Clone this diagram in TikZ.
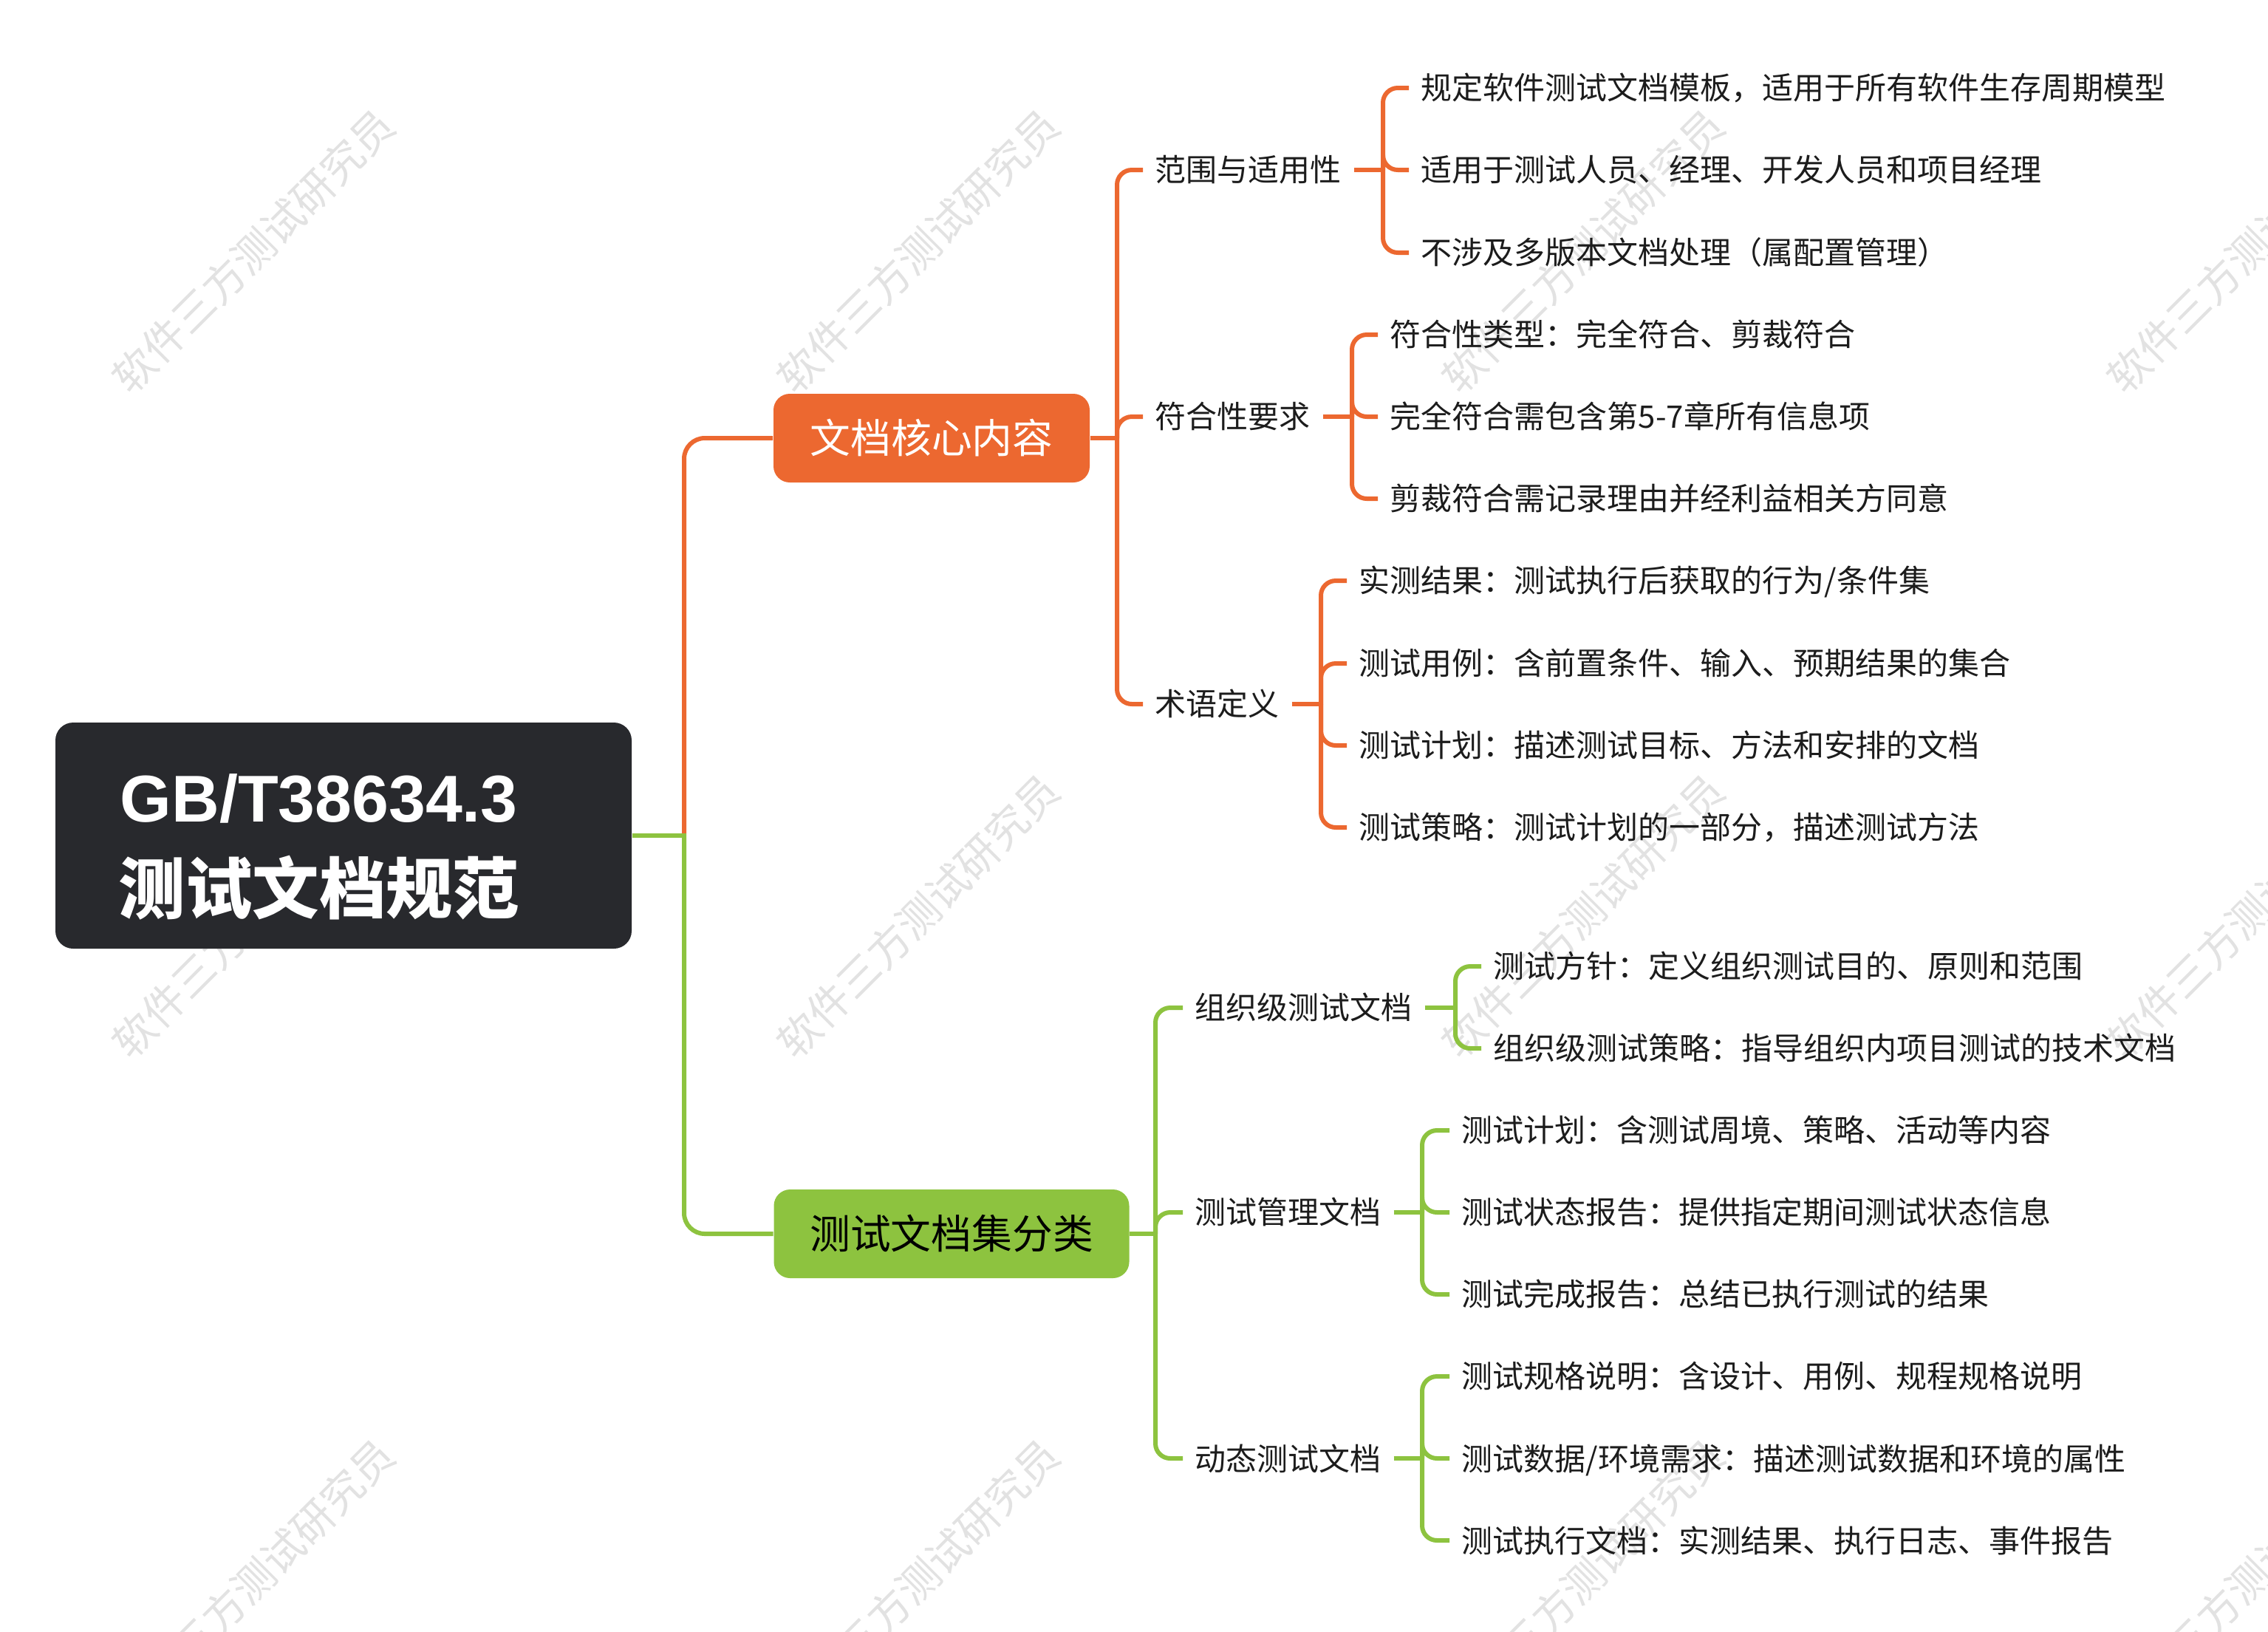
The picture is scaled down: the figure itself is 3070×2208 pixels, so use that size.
\documentclass[tikz,border=0pt]{standalone}
\usepackage{fontspec}
\setmainfont{Noto Sans CJK SC}
\newfontfamily\latinbold{Liberation Sans}
\usetikzlibrary{calc}
\definecolor{corange}{HTML}{EC6830}
\definecolor{cgreen}{HTML}{8DC33F}
\definecolor{croot}{HTML}{28292D}
\definecolor{ctext}{HTML}{1C1C1C}
\definecolor{cwm}{HTML}{E2E2E2}
\begin{document}
\begin{tikzpicture}[x=0.25pt,y=-0.25pt,
  wm/.style={text=cwm, font=\fontsize{14.2}{14.2}\selectfont, rotate=45, inner sep=0pt},
  rootbox/.style={fill=croot, rounded corners=6pt, minimum width=195pt, minimum height=76.5pt, inner sep=0pt},
  roottext/.style={text=white, inner sep=0pt, anchor=base west},
  lonebox/.style={rounded corners=5.5pt, minimum height=30pt, inner sep=0pt, font=\fontsize{13.7}{16}\selectfont},
  item/.style={anchor=west, inner xsep=4pt, inner ysep=1pt, text=ctext, text height=9.24pt, text depth=1.26pt, font=\fontsize{10.5}{12.6}\selectfont},
  ol/.style={draw=corange, line width=1.5pt, rounded corners=5pt},
  gl/.style={draw=cgreen, line width=1.5pt, rounded corners=5pt}
]
\useasboundingbox (0,0) rectangle (3070,2208);
\fill[white] (0,0) rectangle (3070,2208);

% watermarks
\foreach \i in {0,...,3} {
  \foreach \j in {0,1,2} {
    \node[wm] (wm\i\j) at ({343+900*\i},{340+900*\j}) {软件三方测试研究员};
  }
}

% root
\node[rootbox] (root) at (465,1131) {};
\node[roottext, font=\latinbold\bfseries\fontsize{22.4}{28}\selectfont] (rt1) at (162,1112) {GB/T38634.3};
\node[roottext, font=\bfseries\fontsize{22.6}{28}\selectfont] (rt2) at (160,1236) {测试文档规范};

% level 1
\node[lonebox, fill=corange, text=white, minimum width=107pt] (core) at (1261,593) {文档核心内容};
\node[lonebox, fill=cgreen, text=black, minimum width=120.25pt] (cls) at (1288,1670) {测试文档集分类};

% level 2 orange
\node[item] (fw) at (1547,230) {范围与适用性};
\node[item] (fh) at (1547,564) {符合性要求};
\node[item] (sy) at (1547,953) {术语定义};

% level 3 orange
\node[item] (a1) at (1907,119) {规定软件测试文档模板，适用于所有软件生存周期模型};
\node[item] (a2) at (1907,230) {适用于测试人员、经理、开发人员和项目经理};
\node[item] (a3) at (1907,342) {不涉及多版本文档处理（属配置管理）};
\node[item] (b1) at (1865,453) {符合性类型：完全符合、剪裁符合};
\node[item] (b2) at (1865,564) {完全符合需包含第5-7章所有信息项};
\node[item] (b3) at (1865,675) {剪裁符合需记录理由并经利益相关方同意};
\node[item] (c1) at (1823,786) {实测结果：测试执行后获取的行为/条件集};
\node[item] (c2) at (1823,898) {测试用例：含前置条件、输入、预期结果的集合};
\node[item] (c3) at (1823,1009) {测试计划：描述测试目标、方法和安排的文档};
\node[item] (c4) at (1823,1120) {测试策略：测试计划的一部分，描述测试方法};

% level 2 green
\node[item] (zz) at (1601,1364) {组织级测试文档};
\node[item] (gm) at (1601,1641) {测试管理文档};
\node[item] (dt) at (1601,1974) {动态测试文档};

% level 3 green
\node[item] (d1) at (2005,1308) {测试方针：定义组织测试目的、原则和范围};
\node[item] (d2) at (2005,1419) {组织级测试策略：指导组织内项目测试的技术文档};
\node[item] (e1) at (1962,1530) {测试计划：含测试周境、策略、活动等内容};
\node[item] (e2) at (1962,1641) {测试状态报告：提供指定期间测试状态信息};
\node[item] (e3) at (1962,1752) {测试完成报告：总结已执行测试的结果};
\node[item] (f1) at (1962,1863) {测试规格说明：含设计、用例、规程规格说明};
\node[item] (f2) at (1962,1974) {测试数据/环境需求：描述测试数据和环境的属性};
\node[item] (f3) at (1962,2085) {测试执行文档：实测结果、执行日志、事件报告};

% junctions
\coordinate (j0) at (926,1131);
\coordinate (j1) at (1512,593);
\coordinate (jfw) at (1872,230);
\coordinate (jfh) at (1830,564);
\coordinate (jsy) at (1788,953);
\coordinate (j2) at (1564,1670);
\coordinate (jzz) at (1970,1364);
\coordinate (jgm) at (1925,1641);
\coordinate (jdt) at (1925,1974);

% root connectors
\draw[ol, rounded corners=7pt] (j0) |- (core.west);
\draw[gl, rounded corners=7pt] (j0) |- (cls.west);
\draw[gl, rounded corners=0pt] (root.east) -- ($(j0)+(3,0)$);

% orange
\draw[ol] (core.east) -- (j1);
\foreach \c in {fw,fh,sy} { \draw[ol] (j1) |- (\c.west); }
\draw[ol] (fw.east) -- (jfw);
\foreach \c in {a1,a2,a3} { \draw[ol] (jfw) |- (\c.west); }
\draw[ol] (fh.east) -- (jfh);
\foreach \c in {b1,b2,b3} { \draw[ol] (jfh) |- (\c.west); }
\draw[ol] (sy.east) -- (jsy);
\foreach \c in {c1,c2,c3,c4} { \draw[ol] (jsy) |- (\c.west); }

% green
\draw[gl] (cls.east) -- (j2);
\foreach \c in {zz,gm,dt} { \draw[gl] (j2) |- (\c.west); }
\draw[gl] (zz.east) -- (jzz);
\foreach \c in {d1,d2} { \draw[gl] (jzz) |- (\c.west); }
\draw[gl] (gm.east) -- (jgm);
\foreach \c in {e1,e2,e3} { \draw[gl] (jgm) |- (\c.west); }
\draw[gl] (dt.east) -- (jdt);
\foreach \c in {f1,f2,f3} { \draw[gl] (jdt) |- (\c.west); }
\end{tikzpicture}
\end{document}
